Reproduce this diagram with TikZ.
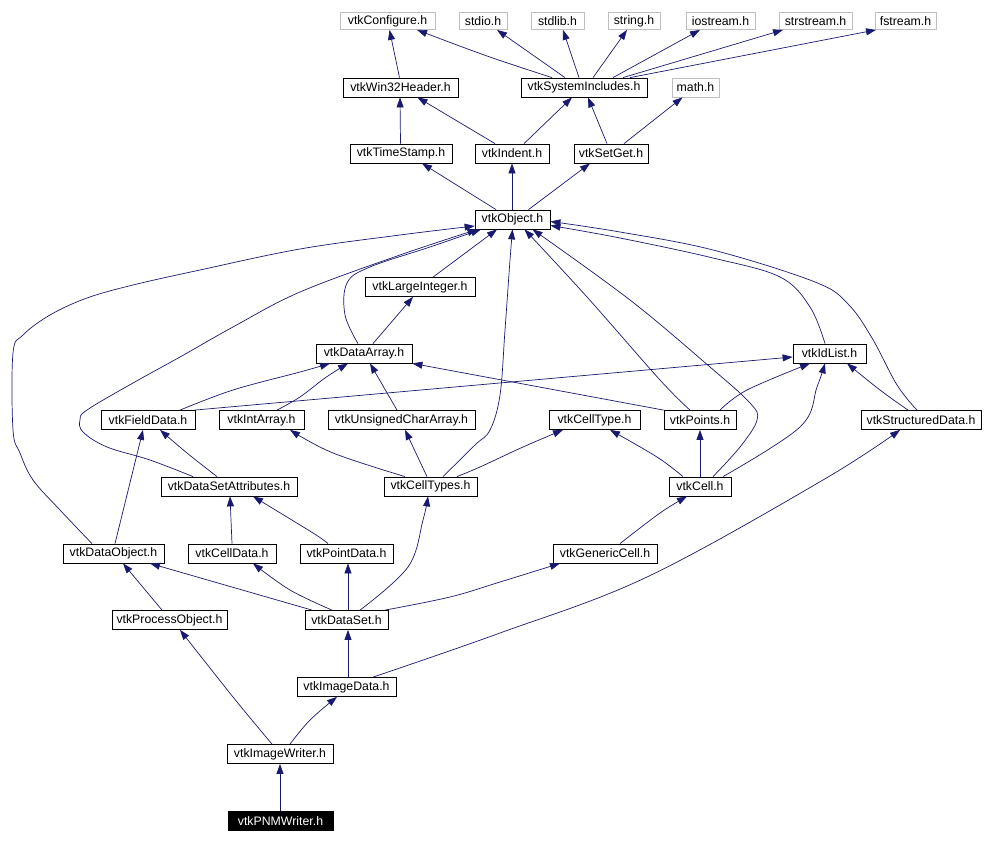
\documentclass[tikz,border=0pt]{standalone}
\usepackage{fontspec}
\setmainfont{Liberation Sans}
\usetikzlibrary{arrows.meta}
\definecolor{edgeblue}{HTML}{191970}
\definecolor{grayborder}{HTML}{BFBFBF}
\begin{document}
\begin{tikzpicture}[x=1pt,y=-1pt,
  box/.style={draw=black, line width=0.8pt, fill=white, minimum height=19pt, inner sep=0pt, font=\fontsize{12.3}{13}\selectfont},
  extbox/.style={box, draw=grayborder, minimum height=17pt},
  mainbox/.style={box, fill=black, text=white},
  dep/.style={draw=edgeblue, line width=0.7pt, -{Triangle[length=10pt,width=7pt]}}]
\useasboundingbox (0,0) rectangle (984,842);

% row 1
\node[extbox, minimum width=95pt] (configure) at (387.5,21) {vtkConfigure.h};
\node[extbox, minimum width=48pt] (stdio) at (483,21) {stdio.h};
\node[extbox, minimum width=53pt] (stdlib) at (557.5,21) {stdlib.h};
\node[extbox, minimum width=52pt] (string) at (634,21) {string.h};
\node[extbox, minimum width=69pt] (iostream) at (720.5,21) {iostream.h};
\node[extbox, minimum width=73pt] (strstream) at (815.5,21) {strstream.h};
\node[extbox, minimum width=61pt] (fstream) at (905.5,21) {fstream.h};
% row 2
\node[box, minimum width=115pt] (win32) at (400.5,87.5) {vtkWin32Header.h};
\node[box, minimum width=126pt] (sysinc) at (584,87.5) {vtkSystemIncludes.h};
\node[extbox, minimum width=47pt, minimum height=19pt] (math) at (695.5,87.5) {math.h};
% row 3
\node[box, minimum width=102pt] (timestamp) at (401,153.5) {vtkTimeStamp.h};
\node[box, minimum width=74pt] (indent) at (512,153.5) {vtkIndent.h};
\node[box, minimum width=74pt] (setget) at (611,153.5) {vtkSetGet.h};
% object
\node[box, minimum width=75pt] (object) at (512.5,219.5) {vtkObject.h};
\node[box, minimum width=110pt] (largeint) at (420,287) {vtkLargeInteger.h};
\node[box, minimum width=96pt] (dataarray) at (364,353.5) {vtkDataArray.h};
\node[box, minimum width=73pt] (idlist) at (829.5,353.5) {vtkIdList.h};
% row fielddata
\node[box, minimum width=94pt] (fielddata) at (148,420) {vtkFieldData.h};
\node[box, minimum width=85pt] (intarray) at (261.5,420) {vtkIntArray.h};
\node[box, minimum width=147pt] (uchar) at (401.5,420) {vtkUnsignedCharArray.h};
\node[box, minimum width=91pt] (celltype) at (594.5,420) {vtkCellType.h};
\node[box, minimum width=72pt] (points) at (700,420) {vtkPoints.h};
\node[box, minimum width=120pt] (structured) at (921,420) {vtkStructuredData.h};
% row dsattr
\node[box, minimum width=136pt] (dsattr) at (229,486.5) {vtkDataSetAttributes.h};
\node[box, minimum width=93pt] (celltypes) at (430.5,486.5) {vtkCellTypes.h};
\node[box, minimum width=62pt] (cell) at (700,486.5) {vtkCell.h};
% row dataobject
\node[box, minimum width=101pt] (dataobject) at (113.5,553.5) {vtkDataObject.h};
\node[box, minimum width=88pt] (celldata) at (232,553.5) {vtkCellData.h};
\node[box, minimum width=93pt] (pointdata) at (346.5,553.5) {vtkPointData.h};
\node[box, minimum width=104pt] (genericcell) at (605,553.5) {vtkGenericCell.h};
% row dataset
\node[box, minimum width=115pt] (processobject) at (169.5,620) {vtkProcessObject.h};
\node[box, minimum width=83pt] (dataset) at (346.5,620) {vtkDataSet.h};
\node[box, minimum width=99pt] (imagedata) at (346.5,687) {vtkImageData.h};
\node[box, minimum width=106pt] (imagewriter) at (280,754) {vtkImageWriter.h};
\node[mainbox, minimum width=105pt] (pnm) at (280.5,821) {vtkPNMWriter.h};

% top edges
\draw[dep] ([xshift=-1pt]win32.north) -- ([xshift=2pt]configure.south);
\draw[dep] plot[smooth, tension=0.6] coordinates {([xshift=-32pt]sysinc.north) (487,56) ([xshift=29.5pt]configure.south)};
\draw[dep] ([xshift=-19pt]sysinc.north) -- ([xshift=14pt]stdio.south);
\draw[dep] ([xshift=-5pt]sysinc.north) -- ([xshift=5.5pt]stdlib.south);
\draw[dep] ([xshift=9pt]sysinc.north) -- ([xshift=-7pt]string.south);
\draw[dep] ([xshift=29pt]sysinc.north) -- ([xshift=-20.5pt]iostream.south);
\draw[dep] ([xshift=39pt]sysinc.north) -- ([xshift=-32.5pt]strstream.south);
\draw[dep] ([xshift=46pt]sysinc.north) -- ([xshift=-29.5pt]fstream.south);
\draw[dep] ([xshift=-0.5pt]timestamp.north) -- ([xshift=-0.5pt]win32.south);
\draw[dep] ([xshift=-17pt]indent.north) -- ([xshift=17pt]win32.south);
\draw[dep] ([xshift=12pt]indent.north) -- ([xshift=-12pt]sysinc.south);
\draw[dep] ([xshift=-4pt]setget.north) -- ([xshift=4pt]sysinc.south);
\draw[dep] ([xshift=13pt]setget.north) -- ([xshift=-13pt]math.south);
\draw[dep] ([xshift=-16.5pt]object.north) -- ([xshift=21pt]timestamp.south);
\draw[dep] ([xshift=-0.5pt]object.north) -- (indent.south);
\draw[dep] ([xshift=16pt]object.north) -- ([xshift=-21pt]setget.south);

% into vtkObject
\draw[dep] ([xshift=13pt]largeint.north) -- ([xshift=-15.5pt]object.south);
\draw[dep] ([xshift=9pt]dataarray.north) -- ([xshift=-7pt]largeint.south);
\draw[dep] plot[smooth, tension=0.6] coordinates {([xshift=-6pt]dataarray.north) (345,315) (347,283) (370,267) (430,247) ([xshift=-31.5pt]object.south)};
\draw[dep] plot[smooth, tension=0.6] coordinates {([xshift=-36pt]dsattr.north) (150,460) (107,447) (83,432) (80,420) (87,410) (133,383) (180,357) (233,327) (300,292) (400,255) ([xshift=-35pt]object.south)};
\draw[dep] plot[smooth, tension=0.6] coordinates {([xshift=-21.5pt]dataobject.north) (60,510) (33,480) (20,453) (13,430) (13,353) (23,335) (50,315) (87,298) (133,285) (200,270) (300,249) (400,235) ([yshift=-6.5pt]object.west)};
\draw[dep] plot[smooth, tension=0.6] coordinates {([xshift=-10pt]points.north) (660,380) (587,297) ([xshift=12pt]object.south)};
\draw[dep] plot[smooth, tension=0.6] coordinates {([xshift=13pt]cell.north) (740,447) (757,420) (750,403) (710,367) (630,300) ([xshift=20pt]object.south)};
\draw[dep] plot[smooth, tension=0.6] coordinates {([xshift=-4.5pt]idlist.north) (810,307) (780,277) (713,258) (620,238) ([yshift=-6pt]object.east)};
\draw[dep] plot[smooth, tension=0.6] coordinates {([xshift=-4pt]structured.north) (897,385) (872,338) (848,304) (815,282) (713,250) (620,232) ([yshift=-2pt]object.east)};
\draw[dep] plot[smooth, tension=0.6] coordinates {([xshift=12.5pt]celltypes.north) (475,445) (490,430) (500,395) (505,330) (510,260) (object.south)};

% data array level
\draw[dep] plot[smooth, tension=0.6] coordinates {([xshift=32pt]fielddata.north) (233,390) (300,372) ([xshift=-34pt]dataarray.south)};
\draw[dep] ([xshift=-1pt]fielddata.north east) -- ([yshift=-3.5pt]idlist.west);
\draw[dep] plot[smooth, tension=0.6] coordinates {([xshift=15.5pt]intarray.north) (300,397) (325,378) ([xshift=-16pt]dataarray.south)};
\draw[dep] ([xshift=-4.5pt]uchar.north) -- ([xshift=6pt]dataarray.south);
\draw[dep] (points.north west) -- (dataarray.south east);
\draw[dep] plot[smooth, tension=0.6] coordinates {([xshift=20pt]points.north) (747,390) ([xshift=-19.5pt]idlist.south)};
\draw[dep] plot[smooth, tension=0.6] coordinates {([xshift=23pt]cell.north) (800,427) (817,387) ([xshift=-4.5pt]idlist.south)};
\draw[dep] plot[smooth, tension=0.6] coordinates {([xshift=-13pt]structured.north) (880,390) ([xshift=17.5pt]idlist.south)};

% cell level
\draw[dep] plot[smooth, tension=0.6] coordinates {([xshift=-17pt]cell.north) (657,457) ([xshift=15.5pt]celltype.south)};
\draw[dep] (cell.north) -- (points.south);
\draw[dep] plot[smooth, tension=0.6] coordinates {([xshift=-25.5pt]celltypes.north) (333,453) ([xshift=28.5pt]intarray.south)};
\draw[dep] ([xshift=-3.5pt]celltypes.north) -- ([xshift=3.5pt]uchar.south);
\draw[dep] plot[smooth, tension=0.6] coordinates {([xshift=26.5pt]celltypes.north) (480,467) (523,447) ([xshift=-31.5pt]celltype.south)};
\draw[dep] plot[smooth, tension=0.6] coordinates {([xshift=-12pt]dsattr.north) (187,453) ([xshift=12pt]fielddata.south)};
\draw[dep] ([xshift=1.5pt]dataobject.north) -- ([xshift=-5pt]fielddata.south);

% lower
\draw[dep] ([xshift=-7.5pt]processobject.north) -- ([xshift=9.5pt]dataobject.south);
\draw[dep] ([xshift=-34.5pt]dataset.north) -- ([xshift=36.5pt]dataobject.south);
\draw[dep] plot[smooth, tension=0.6] coordinates {([xshift=-14.5pt]dataset.north) (290,590) ([xshift=21pt]celldata.south)};
\draw[dep] ([xshift=1.5pt]dataset.north) -- ([xshift=1.5pt]pointdata.south);
\draw[dep] plot[smooth, tension=0.6] coordinates {([xshift=13.5pt]dataset.north) (408,567) (423,520) ([xshift=-2.5pt]celltypes.south)};
\draw[dep] plot[smooth, tension=0.6] coordinates {([xshift=38.5pt]dataset.north) (450,597) (500,582) ([xshift=-45pt]genericcell.south)};
\draw[dep] plot[smooth, tension=0.6] coordinates {([xshift=15pt]genericcell.north) (660,513) ([xshift=-13pt]cell.south)};
\draw[dep] (celldata.north) -- ([xshift=1pt]dsattr.south);
\draw[dep] plot[smooth, tension=0.6] coordinates {([xshift=-18.5pt]pointdata.north) (313,533) ([xshift=24pt]dsattr.south)};
\draw[dep] ([xshift=1.5pt]imagedata.north) -- ([xshift=1.5pt]dataset.south);
\draw[dep] plot[smooth, tension=0.6] coordinates {([xshift=26.5pt]imagedata.north) (500,633) (647,577) (823,480) ([xshift=-21pt]structured.south)};
\draw[dep] plot[smooth, tension=0.6] coordinates {([xshift=-8pt]imagewriter.north) (233,697) ([xshift=10.5pt]processobject.south)};
\draw[dep] plot[smooth, tension=0.6] coordinates {([xshift=10pt]imagewriter.north) (310,720) ([xshift=-9.5pt]imagedata.south)};
\draw[dep] ([xshift=-0.5pt]pnm.north) -- (imagewriter.south);
\end{tikzpicture}
\end{document}
